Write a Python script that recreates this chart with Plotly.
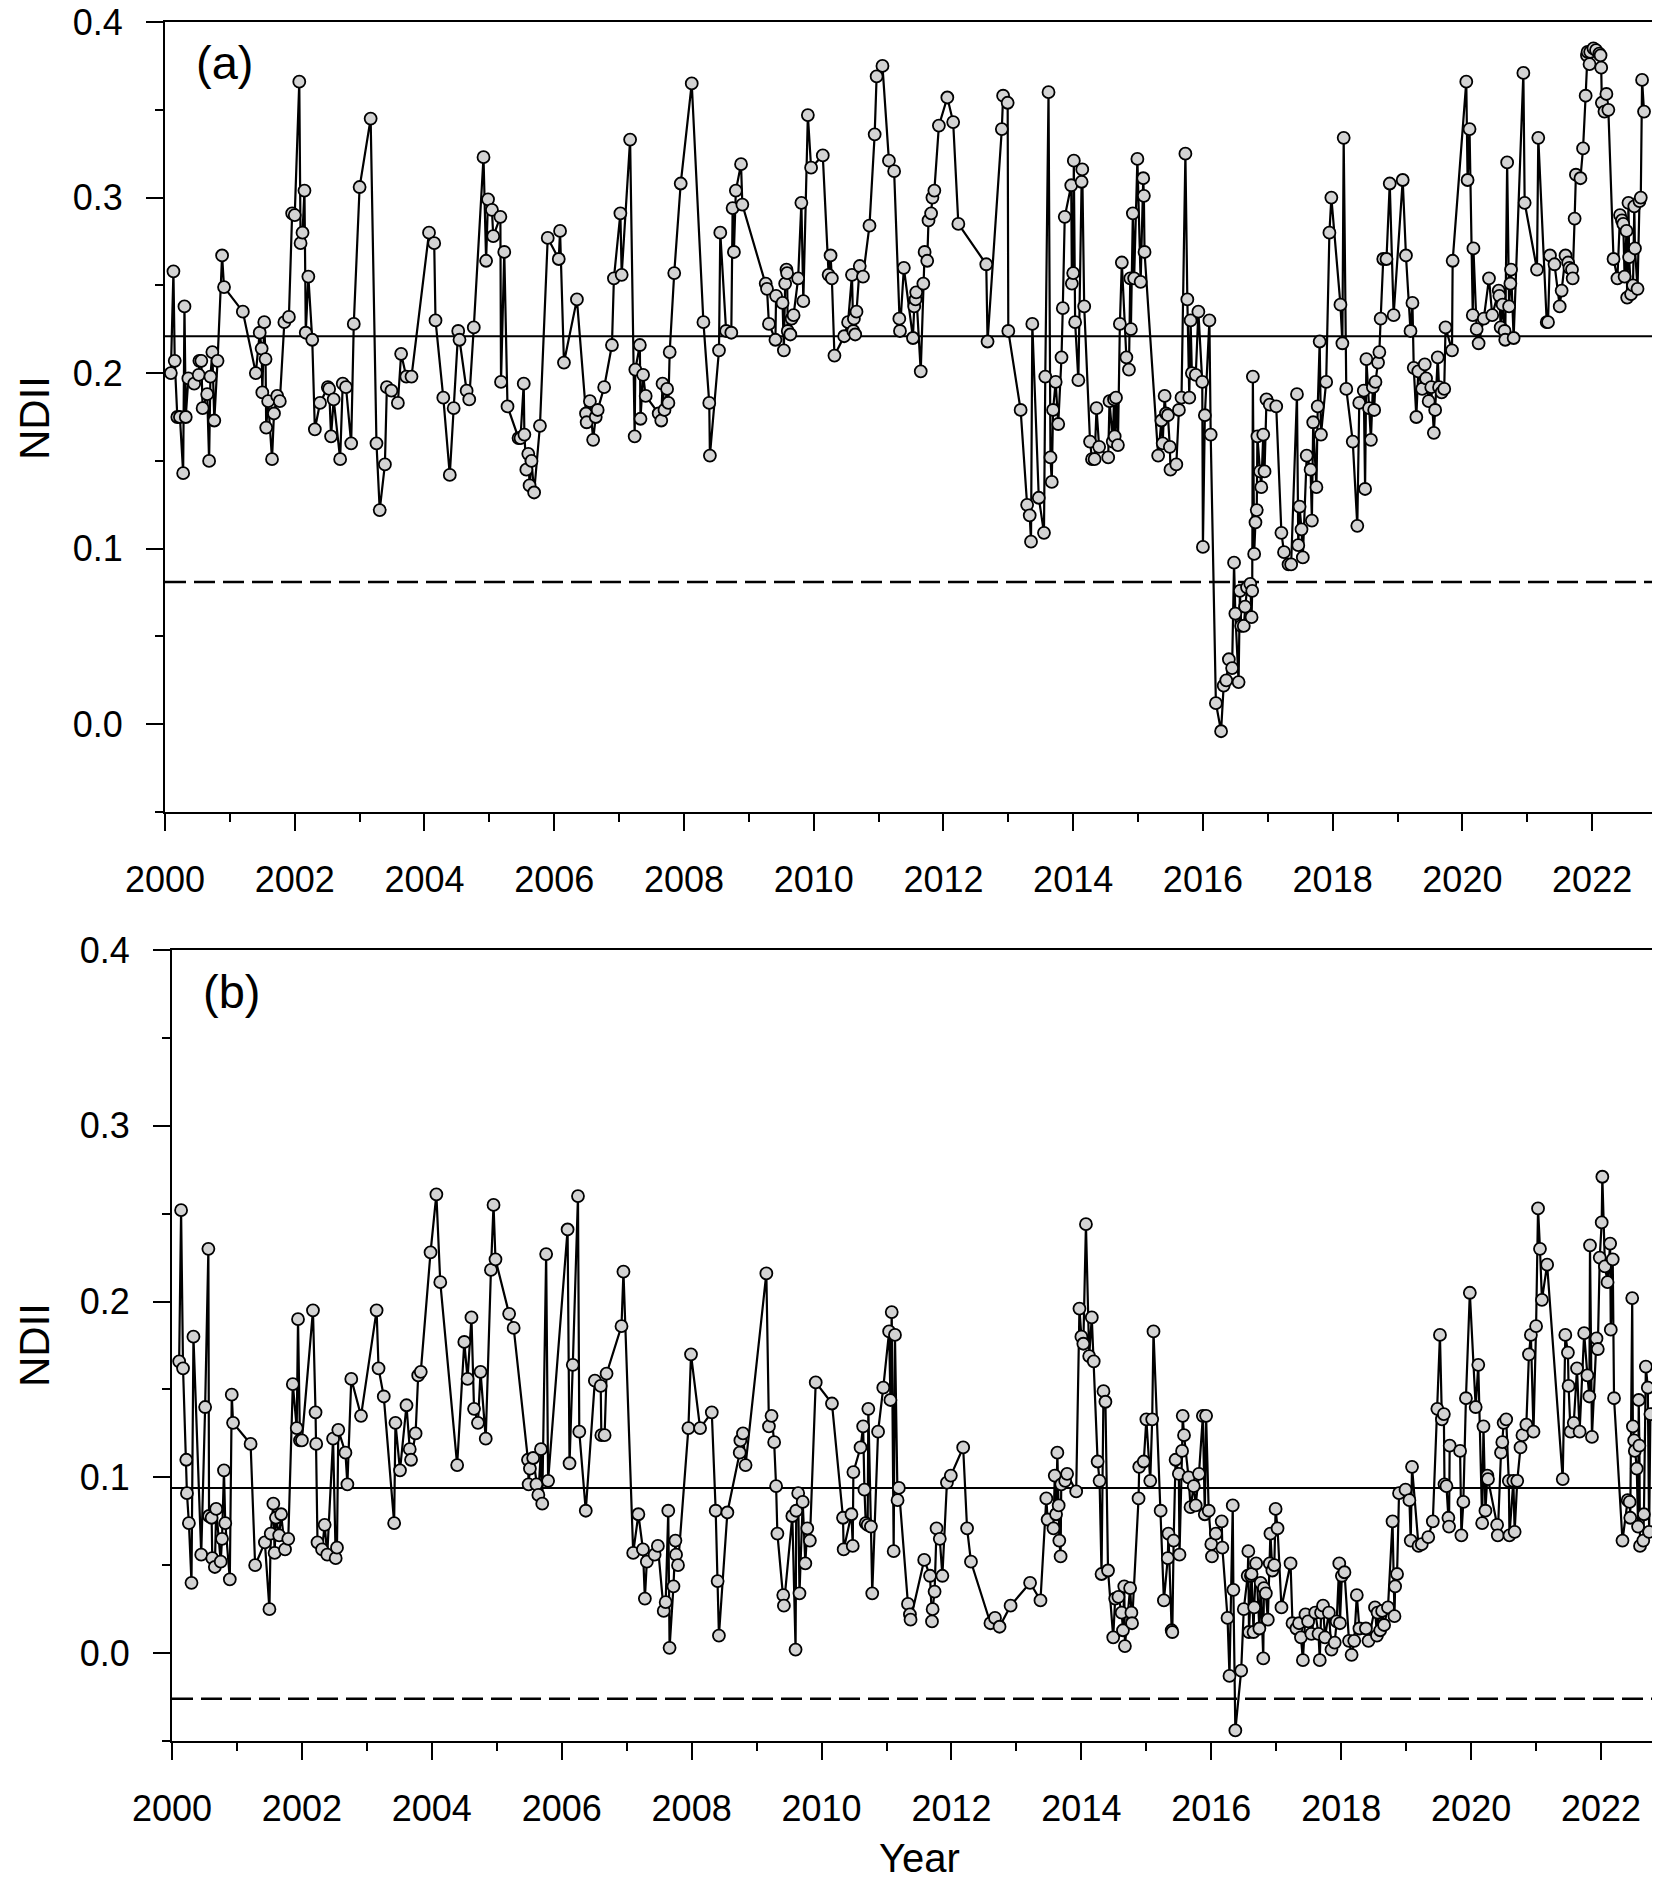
import plotly.graph_objects as go

# Panel (a): NDII time series (decimal years)
year_a = [
    2000.09, 2000.13, 2000.15, 2000.19, 2000.23, 2000.28, 2000.30, 2000.32, 2000.36, 2000.45,
    2000.52, 2000.53, 2000.56, 2000.58, 2000.65, 2000.68, 2000.70, 2000.73, 2000.76, 2000.81,
    2000.88, 2000.91, 2001.20, 2001.40, 2001.46, 2001.49, 2001.50, 2001.53, 2001.55, 2001.56,
    2001.59, 2001.65, 2001.68, 2001.73, 2001.77, 2001.84, 2001.91, 2001.96, 2002.00, 2002.07,
    2002.09, 2002.12, 2002.15, 2002.17, 2002.21, 2002.27, 2002.31, 2002.39, 2002.51, 2002.53,
    2002.56, 2002.60, 2002.70, 2002.74, 2002.79, 2002.87, 2002.91, 2003.00, 2003.17, 2003.26,
    2003.31, 2003.39, 2003.42, 2003.49, 2003.59, 2003.64, 2003.72, 2003.80, 2004.07, 2004.15,
    2004.17, 2004.29, 2004.39, 2004.45, 2004.52, 2004.54, 2004.65, 2004.69, 2004.76, 2004.91,
    2004.95, 2004.98, 2005.04, 2005.06, 2005.17, 2005.18, 2005.23, 2005.28, 2005.45, 2005.48,
    2005.53, 2005.54, 2005.57, 2005.60, 2005.62, 2005.65, 2005.69, 2005.78, 2005.90, 2006.07,
    2006.09, 2006.15, 2006.35, 2006.49, 2006.50, 2006.55, 2006.60, 2006.64, 2006.67, 2006.77,
    2006.89, 2006.92, 2007.02, 2007.04, 2007.17, 2007.24, 2007.25, 2007.32, 2007.33, 2007.37,
    2007.41, 2007.61, 2007.65, 2007.67, 2007.70, 2007.74, 2007.76, 2007.78, 2007.85, 2007.95,
    2008.12, 2008.30, 2008.39, 2008.40, 2008.54, 2008.56, 2008.65, 2008.73, 2008.75, 2008.77,
    2008.80, 2008.88, 2008.90, 2009.26, 2009.28, 2009.31, 2009.41, 2009.42, 2009.52, 2009.54,
    2009.56, 2009.58, 2009.59, 2009.60, 2009.64, 2009.66, 2009.69, 2009.76, 2009.81, 2009.84,
    2009.91, 2009.96, 2010.14, 2010.23, 2010.26, 2010.28, 2010.32, 2010.47, 2010.53, 2010.59,
    2010.61, 2010.62, 2010.64, 2010.66, 2010.71, 2010.76, 2010.86, 2010.94, 2010.97, 2011.06,
    2011.16, 2011.24, 2011.32, 2011.33, 2011.39, 2011.53, 2011.55, 2011.57, 2011.58, 2011.65,
    2011.69, 2011.71, 2011.75, 2011.77, 2011.81, 2011.83, 2011.86, 2011.93, 2012.06, 2012.15,
    2012.23, 2012.66, 2012.68, 2012.90, 2012.92, 2012.99, 2013.00, 2013.19, 2013.29, 2013.33,
    2013.35, 2013.37, 2013.47, 2013.55, 2013.57, 2013.62, 2013.65, 2013.67, 2013.69, 2013.73,
    2013.77, 2013.82, 2013.84, 2013.87, 2013.97, 2013.98, 2014.00, 2014.01, 2014.03, 2014.08,
    2014.13, 2014.14, 2014.17, 2014.26, 2014.29, 2014.33, 2014.36, 2014.40, 2014.54, 2014.56,
    2014.61, 2014.63, 2014.64, 2014.66, 2014.69, 2014.72, 2014.75, 2014.82, 2014.86, 2014.88,
    2014.89, 2014.92, 2014.94, 2014.99, 2015.04, 2015.08, 2015.09, 2015.10, 2015.31, 2015.36,
    2015.38, 2015.41, 2015.43, 2015.46, 2015.49, 2015.50, 2015.59, 2015.63, 2015.67, 2015.73,
    2015.76, 2015.79, 2015.81, 2015.83, 2015.89, 2015.93, 2015.99, 2016.00, 2016.03, 2016.10,
    2016.12, 2016.20, 2016.28, 2016.32, 2016.36, 2016.40, 2016.45, 2016.48, 2016.50, 2016.55,
    2016.57, 2016.59, 2016.63, 2016.65, 2016.68, 2016.73, 2016.75, 2016.76, 2016.77, 2016.79,
    2016.81, 2016.83, 2016.84, 2016.88, 2016.90, 2016.93, 2016.95, 2016.98, 2017.03, 2017.13,
    2017.21, 2017.25, 2017.32, 2017.36, 2017.45, 2017.47, 2017.49, 2017.52, 2017.54, 2017.60,
    2017.66, 2017.68, 2017.70, 2017.75, 2017.77, 2017.80, 2017.82, 2017.90, 2017.95, 2017.98,
    2018.12, 2018.15, 2018.17, 2018.21, 2018.31, 2018.38, 2018.41, 2018.48, 2018.50, 2018.52,
    2018.56, 2018.59, 2018.62, 2018.64, 2018.66, 2018.70, 2018.72, 2018.74, 2018.78, 2018.83,
    2018.88, 2018.94, 2019.08, 2019.13, 2019.20, 2019.23, 2019.25, 2019.29, 2019.32, 2019.38,
    2019.42, 2019.44, 2019.48, 2019.52, 2019.56, 2019.58, 2019.62, 2019.64, 2019.68, 2019.72,
    2019.74, 2019.84, 2019.85, 2020.06, 2020.08, 2020.11, 2020.16, 2020.17, 2020.22, 2020.25,
    2020.33, 2020.41, 2020.46, 2020.56, 2020.57, 2020.59, 2020.62, 2020.65, 2020.66, 2020.69,
    2020.72, 2020.74, 2020.75, 2020.79, 2020.94, 2020.96, 2021.15, 2021.17, 2021.30, 2021.32,
    2021.35, 2021.42, 2021.50, 2021.53, 2021.59, 2021.63, 2021.65, 2021.69, 2021.70, 2021.73,
    2021.75, 2021.82, 2021.86, 2021.90, 2021.92, 2021.93, 2021.96, 2021.97, 2022.02, 2022.06,
    2022.11, 2022.13, 2022.14, 2022.15, 2022.19, 2022.22, 2022.25, 2022.33, 2022.39, 2022.43,
    2022.46, 2022.48, 2022.50, 2022.53, 2022.54, 2022.56, 2022.57, 2022.60, 2022.63, 2022.65,
    2022.66, 2022.70, 2022.73, 2022.75, 2022.77, 2022.80,
]
ndii_a = [
    0.200, 0.258, 0.207, 0.175, 0.175, 0.143, 0.238, 0.175, 0.197, 0.194,
    0.199, 0.207, 0.207, 0.180, 0.188, 0.150, 0.198, 0.212, 0.173, 0.207,
    0.267, 0.249, 0.235, 0.200, 0.223, 0.214, 0.189, 0.229, 0.208, 0.169,
    0.184, 0.151, 0.177, 0.187, 0.184, 0.229, 0.232, 0.291, 0.290, 0.366,
    0.274, 0.280, 0.304, 0.223, 0.255, 0.219, 0.168, 0.183, 0.192, 0.191,
    0.164, 0.185, 0.151, 0.194, 0.192, 0.160, 0.228, 0.306, 0.345, 0.160,
    0.122, 0.148, 0.192, 0.190, 0.183, 0.211, 0.198, 0.198, 0.280, 0.274,
    0.230, 0.186, 0.142, 0.180, 0.224, 0.219, 0.190, 0.185, 0.226, 0.323,
    0.264, 0.299, 0.293, 0.278, 0.289, 0.195, 0.269, 0.181, 0.163, 0.163,
    0.194, 0.165, 0.145, 0.154, 0.136, 0.150, 0.132, 0.170, 0.277, 0.265,
    0.281, 0.206, 0.242, 0.177, 0.172, 0.184, 0.162, 0.175, 0.179, 0.192,
    0.216, 0.254, 0.291, 0.256, 0.333, 0.164, 0.202, 0.216, 0.174, 0.199,
    0.187, 0.177, 0.173, 0.194, 0.179, 0.191, 0.183, 0.212, 0.257, 0.308,
    0.365, 0.229, 0.183, 0.153, 0.213, 0.280, 0.224, 0.223, 0.294, 0.269,
    0.304, 0.319, 0.296, 0.251, 0.248, 0.228, 0.219, 0.244, 0.240, 0.213,
    0.251, 0.259, 0.257, 0.224, 0.222, 0.231, 0.233, 0.254, 0.297, 0.241,
    0.347, 0.317, 0.324, 0.256, 0.267, 0.254, 0.210, 0.221, 0.229, 0.256,
    0.224, 0.231, 0.222, 0.235, 0.261, 0.255, 0.284, 0.336, 0.369, 0.375,
    0.321, 0.315, 0.231, 0.224, 0.260, 0.220, 0.238, 0.242, 0.246, 0.201,
    0.251, 0.269, 0.264, 0.287, 0.291, 0.300, 0.304, 0.341, 0.357, 0.343,
    0.285, 0.262, 0.218, 0.339, 0.358, 0.354, 0.224, 0.179, 0.125, 0.119,
    0.104, 0.228, 0.129, 0.109, 0.198, 0.360, 0.152, 0.138, 0.179, 0.195,
    0.171, 0.209, 0.237, 0.289, 0.307, 0.251, 0.257, 0.321, 0.229, 0.196,
    0.309, 0.316, 0.238, 0.161, 0.151, 0.151, 0.180, 0.158, 0.152, 0.184,
    0.161, 0.185, 0.164, 0.186, 0.159, 0.228, 0.263, 0.209, 0.202, 0.254,
    0.225, 0.291, 0.254, 0.322, 0.252, 0.311, 0.301, 0.269, 0.153, 0.173,
    0.160, 0.187, 0.177, 0.176, 0.158, 0.145, 0.148, 0.179, 0.186, 0.325,
    0.242, 0.186, 0.230, 0.200, 0.199, 0.235, 0.195, 0.101, 0.176, 0.230,
    0.165, 0.012, -0.004, 0.022, 0.025, 0.037, 0.032, 0.092, 0.063, 0.024,
    0.076, 0.056, 0.056, 0.067, 0.078, 0.080, 0.061, 0.076, 0.198, 0.097,
    0.115, 0.122, 0.164, 0.144, 0.135, 0.165, 0.144, 0.185, 0.182, 0.181,
    0.109, 0.098, 0.091, 0.091, 0.188, 0.102, 0.124, 0.111, 0.095, 0.153,
    0.145, 0.116, 0.172, 0.135, 0.181, 0.218, 0.165, 0.195, 0.280, 0.300,
    0.239, 0.217, 0.334, 0.191, 0.161, 0.113, 0.183, 0.190, 0.134, 0.208,
    0.180, 0.162, 0.192, 0.179, 0.195, 0.206, 0.212, 0.231, 0.265, 0.265,
    0.308, 0.233, 0.310, 0.267, 0.224, 0.240, 0.203, 0.175, 0.201, 0.191,
    0.205, 0.197, 0.184, 0.192, 0.166, 0.179, 0.209, 0.192, 0.189, 0.191,
    0.226, 0.213, 0.264, 0.366, 0.310, 0.339, 0.233, 0.271, 0.225, 0.217,
    0.231, 0.254, 0.233, 0.247, 0.244, 0.226, 0.239, 0.224, 0.219, 0.320,
    0.238, 0.251, 0.259, 0.220, 0.371, 0.297, 0.259, 0.334, 0.229, 0.229,
    0.267, 0.262, 0.238, 0.247, 0.267, 0.263, 0.260, 0.259, 0.254, 0.288,
    0.313, 0.311, 0.328, 0.358, 0.381, 0.383, 0.376, 0.383, 0.385, 0.384,
    0.382, 0.381, 0.374, 0.354, 0.349, 0.359, 0.350, 0.265, 0.254, 0.290,
    0.287, 0.285, 0.255, 0.281, 0.243, 0.297, 0.266, 0.245, 0.250, 0.295,
    0.271, 0.248, 0.298, 0.300, 0.367, 0.349,
]

# Panel (b)
year_b = [
    2000.11, 2000.14, 2000.17, 2000.22, 2000.23, 2000.26, 2000.30, 2000.33, 2000.45, 2000.51,
    2000.56, 2000.57, 2000.61, 2000.62, 2000.66, 2000.68, 2000.75, 2000.77, 2000.80, 2000.82,
    2000.89, 2000.92, 2000.94, 2001.21, 2001.28, 2001.43, 2001.50, 2001.52, 2001.56, 2001.58,
    2001.60, 2001.65, 2001.68, 2001.74, 2001.79, 2001.86, 2001.92, 2001.94, 2001.97, 2002.00,
    2002.17, 2002.21, 2002.22, 2002.24, 2002.31, 2002.35, 2002.39, 2002.48, 2002.52, 2002.54,
    2002.56, 2002.67, 2002.70, 2002.76, 2002.91, 2003.15, 2003.18, 2003.26, 2003.42, 2003.44,
    2003.51, 2003.61, 2003.66, 2003.68, 2003.75, 2003.79, 2003.83, 2003.98, 2004.07, 2004.13,
    2004.39, 2004.50, 2004.55, 2004.61, 2004.65, 2004.71, 2004.75, 2004.83, 2004.91, 2004.95,
    2004.98, 2005.19, 2005.26, 2005.48, 2005.49, 2005.51, 2005.56, 2005.61, 2005.64, 2005.68,
    2005.70, 2005.76, 2005.79, 2006.09, 2006.12, 2006.17, 2006.25, 2006.27, 2006.37, 2006.51,
    2006.60, 2006.61, 2006.66, 2006.69, 2006.92, 2006.95, 2007.10, 2007.18, 2007.25, 2007.28,
    2007.31, 2007.43, 2007.48, 2007.57, 2007.60, 2007.64, 2007.66, 2007.72, 2007.75, 2007.76,
    2007.79, 2007.95, 2007.99, 2008.13, 2008.31, 2008.37, 2008.40, 2008.42, 2008.55, 2008.74,
    2008.75, 2008.79, 2008.83, 2009.15, 2009.19, 2009.23, 2009.27, 2009.30, 2009.32, 2009.41,
    2009.42, 2009.55, 2009.60, 2009.61, 2009.64, 2009.66, 2009.71, 2009.75, 2009.78, 2009.82,
    2009.91, 2010.16, 2010.33, 2010.34, 2010.46, 2010.48, 2010.49, 2010.60, 2010.64, 2010.66,
    2010.68, 2010.71, 2010.72, 2010.76, 2010.78, 2010.87, 2010.95, 2011.04, 2011.06, 2011.08,
    2011.11, 2011.13, 2011.17, 2011.19, 2011.33, 2011.36, 2011.37, 2011.58, 2011.67, 2011.70,
    2011.71, 2011.74, 2011.77, 2011.82, 2011.86, 2011.93, 2011.99, 2012.18, 2012.24, 2012.30,
    2012.60, 2012.67, 2012.74, 2012.91, 2013.21, 2013.37, 2013.46, 2013.48, 2013.57, 2013.59,
    2013.61, 2013.63, 2013.65, 2013.66, 2013.68, 2013.69, 2013.75, 2013.78, 2013.92, 2013.97,
    2014.00, 2014.03, 2014.07, 2014.12, 2014.16, 2014.19, 2014.25, 2014.28, 2014.31, 2014.34,
    2014.37, 2014.41, 2014.49, 2014.52, 2014.57, 2014.62, 2014.64, 2014.66, 2014.67, 2014.75,
    2014.77, 2014.78, 2014.88, 2014.89, 2014.96, 2015.00, 2015.06, 2015.09, 2015.11, 2015.22,
    2015.27, 2015.33, 2015.34, 2015.39, 2015.40, 2015.42, 2015.45, 2015.50, 2015.51, 2015.55,
    2015.56, 2015.58, 2015.65, 2015.68, 2015.73, 2015.76, 2015.81, 2015.87, 2015.90, 2015.92,
    2015.96, 2016.00, 2016.01, 2016.07, 2016.16, 2016.17, 2016.25, 2016.28, 2016.33, 2016.34,
    2016.37, 2016.46, 2016.50, 2016.56, 2016.57, 2016.58, 2016.61, 2016.62, 2016.65, 2016.66,
    2016.69, 2016.74, 2016.76, 2016.80, 2016.81, 2016.84, 2016.87, 2016.90, 2016.91, 2016.94,
    2016.97, 2016.99, 2017.02, 2017.08, 2017.22, 2017.25, 2017.31, 2017.35, 2017.38, 2017.41,
    2017.45, 2017.49, 2017.54, 2017.60, 2017.65, 2017.67, 2017.69, 2017.72, 2017.75, 2017.81,
    2017.85, 2017.90, 2017.93, 2017.97, 2017.98, 2018.01, 2018.05, 2018.12, 2018.16, 2018.20,
    2018.24, 2018.28, 2018.38, 2018.42, 2018.52, 2018.55, 2018.56, 2018.60, 2018.63, 2018.66,
    2018.72, 2018.79, 2018.82, 2018.83, 2018.86, 2018.89, 2018.99, 2019.05, 2019.07, 2019.09,
    2019.19, 2019.24, 2019.34, 2019.41, 2019.48, 2019.52, 2019.55, 2019.58, 2019.59, 2019.62,
    2019.65, 2019.66, 2019.67, 2019.83, 2019.85, 2019.88, 2019.92, 2019.98, 2020.07, 2020.11,
    2020.17, 2020.19, 2020.22, 2020.25, 2020.26, 2020.40, 2020.41, 2020.46, 2020.48, 2020.50,
    2020.54, 2020.58, 2020.59, 2020.65, 2020.67, 2020.71, 2020.76, 2020.79, 2020.85, 2020.89,
    2020.92, 2020.96, 2021.00, 2021.03, 2021.06, 2021.09, 2021.17, 2021.41, 2021.45, 2021.49,
    2021.50, 2021.53, 2021.58, 2021.63, 2021.67, 2021.74, 2021.79, 2021.82, 2021.83, 2021.86,
    2021.93, 2021.95, 2021.98, 2022.01, 2022.02, 2022.06, 2022.10, 2022.14, 2022.15, 2022.18,
    2022.20, 2022.33, 2022.41, 2022.44, 2022.45, 2022.48, 2022.49, 2022.51, 2022.52, 2022.55,
    2022.57, 2022.58, 2022.59, 2022.60, 2022.65, 2022.66, 2022.69, 2022.72, 2022.74, 2022.76,
]
ndii_b = [
    0.166, 0.252, 0.162, 0.110, 0.091, 0.074, 0.040, 0.180, 0.056, 0.140,
    0.230, 0.078, 0.077, 0.054, 0.049, 0.082, 0.052, 0.065, 0.104, 0.074,
    0.042, 0.147, 0.131, 0.119, 0.050, 0.063, 0.025, 0.068, 0.085, 0.057,
    0.077, 0.067, 0.079, 0.059, 0.065, 0.153, 0.128, 0.190, 0.121, 0.121,
    0.195, 0.137, 0.119, 0.063, 0.059, 0.073, 0.056, 0.122, 0.054, 0.060,
    0.127, 0.114, 0.096, 0.156, 0.135, 0.195, 0.162, 0.146, 0.074, 0.131,
    0.104, 0.141, 0.116, 0.110, 0.125, 0.158, 0.160, 0.228, 0.261, 0.211,
    0.107, 0.177, 0.156, 0.191, 0.139, 0.131, 0.160, 0.122, 0.218, 0.255,
    0.224, 0.193, 0.185, 0.110, 0.096, 0.105, 0.111, 0.096, 0.090, 0.116,
    0.085, 0.227, 0.098, 0.241, 0.108, 0.164, 0.260, 0.126, 0.081, 0.155,
    0.152, 0.124, 0.124, 0.159, 0.186, 0.217, 0.057, 0.079, 0.059, 0.031,
    0.052, 0.056, 0.061, 0.024, 0.029, 0.081, 0.003, 0.038, 0.064, 0.056,
    0.050, 0.128, 0.170, 0.128, 0.137, 0.081, 0.041, 0.010, 0.080, 0.114,
    0.121, 0.125, 0.107, 0.216, 0.129, 0.135, 0.120, 0.095, 0.068, 0.033,
    0.027, 0.078, 0.002, 0.081, 0.091, 0.034, 0.086, 0.051, 0.071, 0.064,
    0.154, 0.142, 0.077, 0.059, 0.079, 0.061, 0.103, 0.117, 0.129, 0.093,
    0.074, 0.073, 0.139, 0.072, 0.034, 0.126, 0.151, 0.183, 0.144, 0.194,
    0.058, 0.181, 0.087, 0.094, 0.028, 0.022, 0.019, 0.053, 0.044, 0.018,
    0.025, 0.035, 0.071, 0.065, 0.044, 0.097, 0.101, 0.117, 0.071, 0.052,
    0.017, 0.020, 0.015, 0.027, 0.040, 0.030, 0.088, 0.076, 0.071, 0.101,
    0.079, 0.114, 0.084, 0.064, 0.055, 0.096, 0.098, 0.102, 0.092, 0.196,
    0.180, 0.176, 0.244, 0.169, 0.191, 0.166, 0.109, 0.098, 0.045, 0.149,
    0.143, 0.047, 0.009, 0.031, 0.032, 0.023, 0.013, 0.038, 0.004, 0.037,
    0.023, 0.017, 0.088, 0.106, 0.109, 0.133, 0.098, 0.133, 0.183, 0.081,
    0.030, 0.054, 0.068, 0.013, 0.012, 0.064, 0.110, 0.102, 0.056, 0.115,
    0.135, 0.124, 0.100, 0.083, 0.095, 0.084, 0.102, 0.135, 0.079, 0.135,
    0.081, 0.062, 0.055, 0.068, 0.075, 0.060, 0.020, -0.013, 0.084, 0.036,
    -0.044, -0.010, 0.025, 0.044, 0.058, 0.012, 0.044, 0.045, 0.012, 0.026,
    0.051, 0.014, 0.040, -0.003, 0.037, 0.034, 0.019, 0.051, 0.068, 0.047,
    0.050, 0.082, 0.071, 0.026, 0.051, 0.017, 0.014, 0.017, 0.009, -0.004,
    0.022, 0.018, 0.011, 0.023, 0.011, -0.004, 0.023, 0.027, 0.009, 0.023,
    0.002, 0.006, 0.018, 0.051, 0.017, 0.044, 0.046, 0.007, -0.001, 0.007,
    0.033, 0.014, 0.014, 0.007, 0.026, 0.010, 0.023, 0.013, 0.024, 0.016,
    0.026, 0.075, 0.021, 0.038, 0.045, 0.091, 0.093, 0.087, 0.064, 0.106,
    0.061, 0.062, 0.066, 0.075, 0.139, 0.181, 0.133, 0.136, 0.096, 0.095,
    0.077, 0.072, 0.118, 0.115, 0.067, 0.086, 0.145, 0.205, 0.140, 0.164,
    0.074, 0.129, 0.081, 0.101, 0.099, 0.073, 0.067, 0.114, 0.120, 0.131,
    0.133, 0.098, 0.067, 0.098, 0.069, 0.098, 0.117, 0.124, 0.130, 0.170,
    0.181, 0.126, 0.186, 0.253, 0.230, 0.201, 0.221, 0.099, 0.181, 0.171,
    0.152, 0.126, 0.131, 0.162, 0.126, 0.182, 0.158, 0.146, 0.232, 0.123,
    0.179, 0.173, 0.225, 0.245, 0.271, 0.220, 0.211, 0.233, 0.184, 0.224,
    0.145, 0.064, 0.087, 0.086, 0.077, 0.202, 0.129, 0.121, 0.115, 0.105,
    0.072, 0.144, 0.118, 0.061, 0.064, 0.079, 0.163, 0.151, 0.069, 0.136,
]

# reference levels: mean (solid) and lower threshold (dashed)
mean_a, low_a = 0.221, 0.081
mean_b, low_b = 0.094, -0.026

W, H = 1660, 1878
font = "Liberation Sans, Arial, sans-serif"

fig = go.Figure()
for x, y, xa, ya in [(year_a, ndii_a, "x", "y"), (year_b, ndii_b, "x2", "y2")]:
    fig.add_trace(go.Scatter(
        x=x, y=y, xaxis=xa, yaxis=ya, mode="lines+markers",
        line=dict(color="black", width=2.2),
        marker=dict(size=12, color="#d3d3d3", line=dict(color="black", width=1.8)),
        showlegend=False,
    ))

xcommon = dict(
    range=[2000, 2023], tick0=2000, dtick=2, ticks="outside", ticklen=17, tickwidth=2,
    tickcolor="black", showline=True, linecolor="black", linewidth=2, mirror=True,
    showgrid=False, zeroline=False, ticklabelstandoff=18, automargin=False,
    ticklabeloverflow="allow",
    tickfont=dict(family=font, size=36, color="black"),
    minor=dict(dtick=1, tick0=2000, ticks="outside", ticklen=8, tickwidth=2, tickcolor="black"),
)
ycommon = dict(
    range=[-0.05, 0.4], tick0=0, dtick=0.1, tickformat=".1f", ticks="outside", ticklen=17,
    tickwidth=2, tickcolor="black", showline=True, linecolor="black", linewidth=2, mirror=True,
    showgrid=False, zeroline=False, ticklabelstandoff=16, automargin=False,
    ticklabeloverflow="allow",
    tickfont=dict(family=font, size=36, color="black"),
    minor=dict(dtick=0.05, tick0=0, ticks="outside", ticklen=8, tickwidth=2, tickcolor="black"),
)

fig.update_layout(
    width=W, height=H, margin=dict(l=0, r=0, t=0, b=0, pad=0),
    paper_bgcolor="white", plot_bgcolor="white",
    xaxis=dict(domain=[157 / W, 1649 / W], anchor="y", **xcommon),
    yaxis=dict(domain=[1 - 804 / H, 1 - 14 / H], anchor="x", **ycommon),
    xaxis2=dict(domain=[164 / W, 1658 / W], anchor="y2", **xcommon),
    yaxis2=dict(domain=[1 - 1733 / H, 1 - 942 / H], anchor="x2", **ycommon),
)

for xr, yr, m, lo in [("x", "y", mean_a, low_a), ("x2", "y2", mean_b, low_b)]:
    fig.add_shape(type="line", xref=xr + " domain", yref=yr, x0=0, x1=1, y0=m, y1=m,
                  line=dict(color="black", width=2), layer="below")
    fig.add_shape(type="line", xref=xr + " domain", yref=yr, x0=0, x1=1, y0=lo, y1=lo,
                  line=dict(color="black", width=2.4, dash="21px,8px"), layer="below")

annots = [
    dict(text="(a)", x=186 / W, y=1 - 55 / H, xanchor="left", yanchor="middle", size=47, angle=0),
    dict(text="(b)", x=193 / W, y=1 - 983 / H, xanchor="left", yanchor="middle", size=47, angle=0),
    dict(text="NDII", x=26 / W, y=1 - 410 / H, xanchor="center", yanchor="middle", size=42, angle=-90),
    dict(text="NDII", x=26 / W, y=1 - 1337 / H, xanchor="center", yanchor="middle", size=42, angle=-90),
    dict(text="Year", x=911 / W, y=4 / H, xanchor="center", yanchor="bottom", size=40, angle=0),
]
for a in annots:
    fig.add_annotation(text=a["text"], x=a["x"], y=a["y"], xref="paper", yref="paper",
                       xanchor=a["xanchor"], yanchor=a["yanchor"], textangle=a["angle"],
                       showarrow=False, font=dict(family=font, size=a["size"], color="black"))

fig.write_html("out.html")
